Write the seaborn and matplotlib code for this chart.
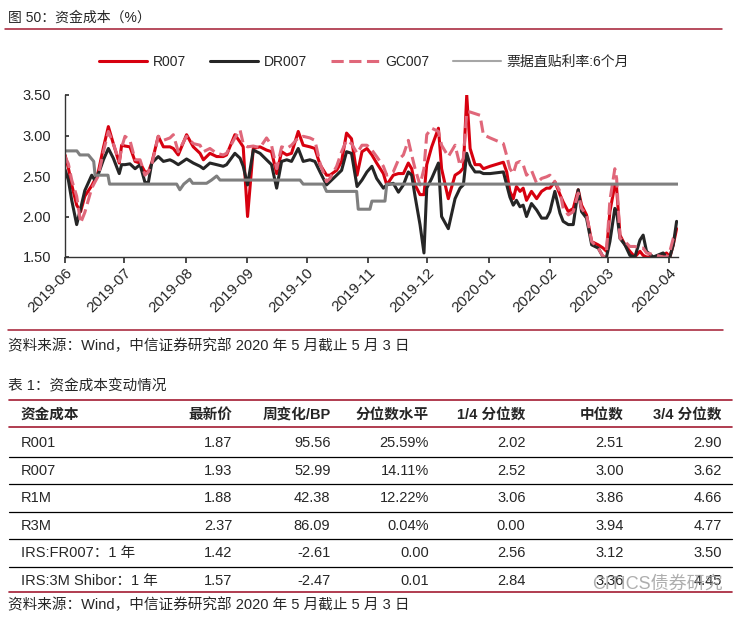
#!/usr/bin/env python
"""Funding cost chart (R007 / DR007 / GC007 / bill rate) plus summary table."""
import matplotlib
matplotlib.use('Agg')
import matplotlib.pyplot as plt
import matplotlib.dates as mdates
from matplotlib.lines import Line2D
from matplotlib.ticker import FormatStrFormatter
import pandas as pd
import seaborn as sns

# days since 2019-06-01
days = [0, 1.7, 3.4, 5.9, 7.9, 10, 13.5, 15, 16.8, 19.4,
        21.9, 24.4, 27.4, 28.6, 30.3, 32.8, 35.4, 37.9, 40.4, 42.1,
        43.8, 47.1, 49.7, 53, 54.7, 57.2, 61.4, 64.8, 68.2, 69.9,
        73.2, 76.6, 79.9, 81.6, 85.8, 88.4, 90, 92.2, 95.1, 98.5,
        101.8, 104.3, 106.9, 109.4, 112, 114.4, 117.8, 120.3, 123.7, 126.2,
        128.8, 132.1, 133.8, 137.2, 139.7, 142.2, 144.7, 147.5, 150, 152.5,
        155, 157.4, 160.8, 162.5, 165.8, 168.4, 170.9, 173.4, 175.1, 176.8,
        179.3, 181.3, 182.7, 185.2, 188.6, 190.2, 193.6, 197, 199.5, 201.2,
        202.9, 204.6, 207.1, 209.6, 211.3, 214.7, 221.4, 223.1, 224.7, 226.4,
        228, 229.8, 231.4, 233.1, 235.6, 238.2, 240.7, 243.2, 244.9, 247.4,
        250, 251.6, 254.2, 256.7, 259.2, 260.9, 263.4, 266, 269.3, 271.8,
        273.5, 275.2, 277.7, 278.6, 280.3, 282.8, 285.3, 287.8, 290.4, 292,
        293.7, 297.1, 302.1, 303.8, 305.5, 307.2, 308.9]

r007 = [2.76, 2.60, 2.39, 2.14, 2.06, 2.25, 2.38, 2.45, 2.55, 2.85,
        3.11, 2.90, 2.66, 2.88, 2.87, 2.86, 2.68, 2.66, 2.55, 2.55,
        2.66, 2.99, 2.86, 2.86, 2.84, 2.76, 3.01, 2.86, 2.78, 2.70,
        2.78, 2.74, 2.74, 2.76, 3.01, 2.92, 2.86, 2.00, 2.84, 2.86,
        2.82, 2.80, 2.53, 2.80, 2.76, 2.78, 3.05, 2.88, 2.86, 2.84,
        2.64, 2.51, 2.51, 2.57, 2.68, 3.03, 2.96, 2.51, 2.80, 2.84,
        2.76, 2.66, 2.53, 2.39, 2.51, 2.53, 2.53, 2.66, 2.59, 2.39,
        2.27, 2.27, 2.64, 2.86, 3.09, 2.59, 2.22, 2.51, 2.55, 2.60,
        3.50, 2.84, 2.64, 2.64, 2.59, 2.62, 2.67, 2.55, 2.31, 2.22,
        2.37, 2.31, 2.35, 2.20, 2.31, 2.22, 2.31, 2.35, 2.35, 2.43,
        2.27, 2.18, 2.06, 2.10, 2.33, 2.14, 2.02, 1.69, 1.65, 1.61,
        1.57, 2.06, 2.39, 2.35, 1.77, 1.65, 1.57, 1.50, 1.57, 1.52,
        1.50, 1.50, 1.52, 1.55, 1.50, 1.65, 1.85]

dr007 = [2.58, 2.45, 2.20, 1.90, 2.10, 2.32, 2.51, 2.45, 2.52, 2.70,
         2.84, 2.72, 2.53, 2.64, 2.64, 2.65, 2.59, 2.64, 2.42, 2.42,
         2.66, 2.74, 2.68, 2.70, 2.68, 2.64, 2.71, 2.66, 2.62, 2.59,
         2.66, 2.64, 2.62, 2.64, 2.78, 2.72, 2.62, 2.39, 2.82, 2.78,
         2.70, 2.64, 2.35, 2.68, 2.70, 2.68, 2.84, 2.68, 2.70, 2.68,
         2.55, 2.39, 2.43, 2.51, 2.57, 2.80, 2.78, 2.37, 2.45, 2.55,
         2.62, 2.47, 2.35, 2.39, 2.41, 2.30, 2.39, 2.55, 2.51, 2.25,
         1.90, 1.55, 2.35, 2.47, 2.66, 2.00, 1.85, 2.22, 2.35, 2.39,
         2.78, 2.64, 2.55, 2.55, 2.53, 2.53, 2.55, 2.39, 2.24, 2.14,
         2.20, 2.12, 2.14, 2.00, 2.16, 2.08, 1.98, 1.98, 2.06, 2.31,
         2.04, 1.94, 1.90, 1.90, 2.33, 2.06, 1.98, 1.65, 1.61, 1.50,
         1.50, 1.69, 2.10, 2.06, 1.73, 1.65, 1.52, 1.50, 1.71, 1.77,
         1.57, 1.50, 1.55, 1.50, 1.50, 1.65, 1.94]

gc007 = [2.74, 2.65, 2.45, 2.25, 1.92, 2.05, 2.35, 2.42, 2.50, 2.80,
         3.05, 2.90, 2.68, 2.85, 2.99, 2.94, 2.70, 2.70, 2.51, 2.55,
         2.64, 2.99, 2.94, 2.97, 3.01, 2.80, 2.99, 2.90, 2.88, 2.80,
         2.84, 2.78, 2.76, 2.78, 2.97, 3.07, 2.90, 2.86, 2.87, 2.85,
         2.97, 2.88, 2.59, 2.86, 2.84, 2.88, 2.97, 2.99, 2.97, 2.94,
         2.66, 2.43, 2.47, 2.62, 2.80, 2.94, 2.90, 2.78, 2.88, 2.88,
         2.82, 2.74, 2.62, 2.51, 2.55, 2.70, 2.76, 2.94, 2.76, 2.59,
         2.39, 2.59, 3.01, 3.09, 3.05, 2.88, 2.74, 2.88, 2.63, 2.72,
         3.29, 3.29, 3.27, 3.25, 3.01, 2.97, 2.90, 2.75, 2.59, 2.53,
         2.66, 2.68, 2.64, 2.51, 2.57, 2.41, 2.47, 2.49, 2.51, 2.43,
         2.31, 2.10, 2.02, 2.06, 2.29, 2.10, 2.02, 1.69, 1.61, 1.50,
         1.57, 2.20, 2.59, 2.47, 1.73, 1.69, 1.63, 1.63, 1.61, 1.61,
         1.55, 1.53, 1.50, 1.50, 1.57, 1.73, 1.77]

bill_days = [0, 6, 7.5, 11.8, 14.5, 15.2, 21.7, 22.5, 56.4, 58, 60, 63, 64.5,
             71.5, 74, 76.6, 78.3, 118.7, 120.3, 130.4, 132.1, 147.3, 148.1,
             154, 155, 161.6, 162.5, 309.6]
bill_rate = [2.81, 2.81, 2.76, 2.76, 2.68, 2.51, 2.51, 2.40, 2.40, 2.33, 2.40,
             2.46, 2.41, 2.41, 2.45, 2.50, 2.45, 2.45, 2.40, 2.40, 2.31, 2.31,
             2.09, 2.09, 2.19, 2.19, 2.40, 2.40]

# table
table_cols = ['资金成本', '最新价', '周变化/BP', '分位数水平', '1/4 分位数', '中位数', '3/4 分位数']
names = ['R001', 'R007', 'R1M', 'R3M', 'IRS:FR007：1 年', 'IRS:3M Shibor：1 年']
latest = ['1.87', '1.93', '1.88', '2.37', '1.42', '1.57']
weekly_bp = ['95.56', '52.99', '42.38', '86.09', '-2.61', '-2.47']
pct_level = ['25.59%', '14.11%', '12.22%', '0.04%', '0.00', '0.01']
q1 = ['2.02', '2.52', '3.06', '0.00', '2.56', '2.84']
median = ['2.51', '3.00', '3.86', '3.94', '3.12', '3.36']
q3 = ['2.90', '3.62', '4.66', '4.77', '3.50', '4.45']

source = '资料来源：Wind，中信证券研究部 2020 年 5 月截止 5 月 3 日'

sns.set_theme(style='white')
plt.rcParams['font.family'] = ['Liberation Sans', 'Noto Sans CJK SC']
plt.rcParams['axes.unicode_minus'] = False

start = pd.Timestamp('2019-06-01')


def to_date(d):
    return start + pd.to_timedelta(d, unit='D')


rates = pd.DataFrame({'date': to_date(days), 'R007': r007, 'DR007': dr007, 'GC007': gc007})
bill = pd.DataFrame({'date': to_date(bill_days), 'rate': bill_rate})

W, H = 739, 620
fig = plt.figure(figsize=(W / 100, H / 100), dpi=100)


def fx(x):
    return x / W


def fy(y):
    return 1 - y / H


ax = fig.add_axes([fx(65), fy(257), fx(678 - 65), (257 - 95) / H])
sns.lineplot(data=rates, x='date', y='R007', ax=ax, color='#D7000F', lw=2.2, label='R007')
sns.lineplot(data=rates, x='date', y='DR007', ax=ax, color='#262626', lw=2.2, label='DR007')
sns.lineplot(data=rates, x='date', y='GC007', ax=ax, color='#E0677A', lw=2.2,
             linestyle=(0, (4, 1.8)), label='GC007')
sns.lineplot(data=bill, x='date', y='rate', ax=ax, color='#7F7F7F', lw=2.2,
             label='票据直贴利率:6个月')

ax.set_ylim(1.5, 3.5)
ax.set_yticks([1.5, 2.0, 2.5, 3.0, 3.5])
ax.yaxis.set_major_formatter(FormatStrFormatter('%.2f'))
ax.set_xlim(start, to_date(309.6))
ax.xaxis.set_major_locator(mdates.MonthLocator())
ax.xaxis.set_major_formatter(mdates.DateFormatter('%Y-%m'))
ax.set_xlabel('')
ax.set_ylabel('')
sns.despine(ax=ax)
for s in ['left', 'bottom']:
    ax.spines[s].set_color('#333333')
    ax.spines[s].set_linewidth(1.0)
ax.tick_params(axis='y', left=True, direction='in', length=3, pad=10,
               labelsize=10.5, color='#333333')
ax.tick_params(axis='x', bottom=True, direction='out', length=4, pad=2,
               labelsize=11, color='#333333')
plt.setp(ax.get_xticklabels(), rotation=45, ha='right', rotation_mode='anchor')

handles, labels = ax.get_legend_handles_labels()
ax.get_legend().remove()
leg = fig.legend(handles, labels, ncol=4, loc='center', bbox_to_anchor=(fx(364), fy(62)),
                 frameon=False, fontsize=10, handlelength=3.5, handletextpad=0.4,
                 columnspacing=1.7)
leg.get_lines()[3].set_linewidth(1.5)
leg.get_lines()[3].set_color('#A6A6A6')

red = '#A31B32'
fig.text(fx(8), fy(18), '图 50：资金成本（%）', fontsize=10, va='center')
fig.add_artist(Line2D([fx(5), fx(722)], [fy(28.5)] * 2, color=red, lw=1.1))
fig.add_artist(Line2D([fx(8), fx(723)], [fy(329.5)] * 2, color=red, lw=1.1))
fig.text(fx(8), fy(346), source, fontsize=10.5, va='center')
fig.text(fx(8), fy(386), '表 1：资金成本变动情况', fontsize=10.5, va='center')

# table layout
col_right = [None, 232.5, 330.5, 429, 525.5, 624, 721.7]
header_y = 415
row0_y = 443.3
pitch = 27.45
fig.add_artist(Line2D([fx(9), fx(732)], [fy(400)] * 2, color=red, lw=1.2))
fig.add_artist(Line2D([fx(9), fx(732)], [fy(427.3)] * 2, color=red, lw=1.2))
for i, name in enumerate(table_cols):
    if i == 0:
        fig.text(fx(20.7), fy(header_y), name, fontsize=10.5, fontweight='bold', va='center')
    else:
        fig.text(fx(col_right[i]), fy(header_y), name, fontsize=10.5, fontweight='bold',
                 va='center', ha='right')

columns = [latest, weekly_bp, pct_level, q1, median, q3]
for r, name in enumerate(names):
    y = row0_y + r * pitch
    fig.text(fx(20.7), fy(y), name, fontsize=10.5, va='center')
    for c, col in enumerate(columns):
        fig.text(fx(col_right[c + 1]), fy(y), col[r], fontsize=10.5, va='center', ha='right')
    if r < len(names) - 1:
        fig.add_artist(Line2D([fx(9), fx(732)], [fy(y + pitch / 2)] * 2, color='black', lw=0.9))
fig.add_artist(Line2D([fx(9), fx(732)], [fy(591.7)] * 2, color=red, lw=1.2))
fig.text(fx(8), fy(605), source, fontsize=10.5, va='center')

# watermark
fig.text(fx(592), fy(584), 'CITICS债券研究', fontsize=13, color='#9A9A9A', alpha=0.8,
         va='center')

fig.savefig('out.png', dpi=100)
